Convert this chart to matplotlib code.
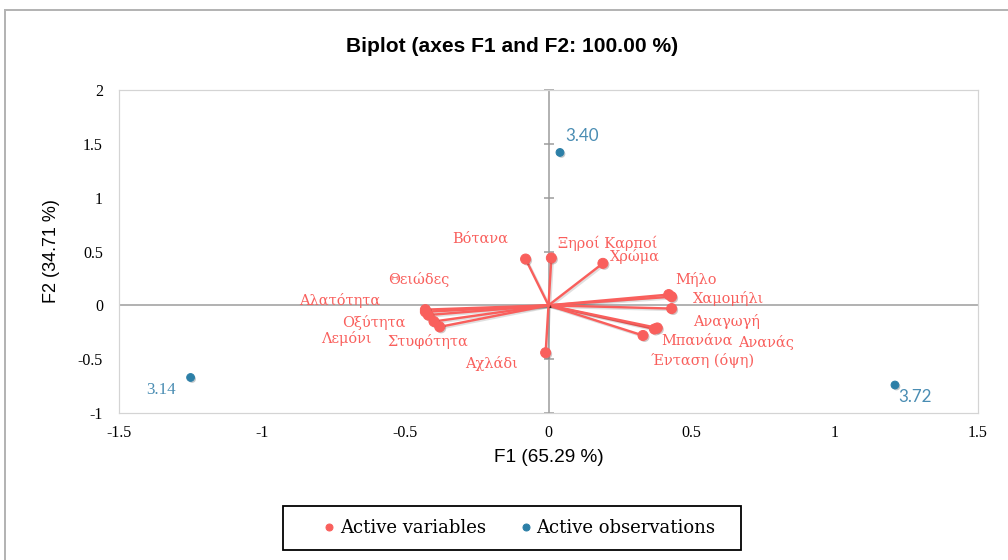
import matplotlib.pyplot as plt
import matplotlib.patheffects as pe
from matplotlib.lines import Line2D
from matplotlib.patches import Rectangle

# Variable loadings (F1, F2)
var_names = ['Βότανα', 'Ξηροί Καρποί', 'Χρώμα', 'Μήλο', 'Χαμομήλι', 'Αναγωγή',
             'Ανανάς', 'Μπανάνα', 'Ένταση (όψη)', 'Θειώδες', 'Αλατότητα',
             'Οξύτητα', 'Λεμόνι', 'Στυφότητα', 'Αχλάδι']
var_f1 = [-0.08, 0.01, 0.19, 0.42, 0.43, 0.43, 0.37, 0.38, 0.33,
          -0.43, -0.43, -0.42, -0.40, -0.38, -0.01]
var_f2 = [0.43, 0.44, 0.39, 0.10, 0.08, -0.03, -0.22, -0.21, -0.28,
          -0.04, -0.06, -0.09, -0.15, -0.20, -0.44]

# Observation scores
obs_names = ['3.40', '3.14', '3.72']
obs_f1 = [0.04, -1.25, 1.21]
obs_f2 = [1.42, -0.67, -0.74]

# label offsets in points (dx, dy) from each point, label centred there
var_offsets = [(-45, 20), (56, 15), (32, 7), (27, 15), (57, -2), (55, -13),
               (112, -13), (40, -13), (60, -25), (-7, 30), (-86, 11),
               (-54, -7), (-88, -17), (-12, -15), (-54, -11)]
obs_offsets = [(22, 16), (-30, -13), (20, -12)]

red = '#f95f5c'
blue = '#2c7fa7'
blue_txt = '#4a8db3'
grey = '#9a9a9a'

fig = plt.figure(figsize=(14, 560 / 72), dpi=72)
ax = fig.add_axes([119 / 1008, 1 - 413 / 560, (978 - 119) / 1008, (413 - 90) / 560])

# outer frame
fig.patches.append(Rectangle((5 / 1008, -0.05), 1.1, 1 - 10 / 560 + 0.05,
                             transform=fig.transFigure, fill=False,
                             edgecolor='#b4b4b4', linewidth=2))

ax.set_xlim(-1.5, 1.5)
ax.set_ylim(-1, 2)
for s in ax.spines.values():
    s.set_color('#d4d4d4')
    s.set_linewidth(1.2)
ax.tick_params(length=0)
ax.tick_params(axis='x', pad=12)
ax.tick_params(axis='y', pad=16)
ax.set_xticks([-1.5, -1, -0.5, 0, 0.5, 1, 1.5])
ax.set_xticklabels(['-1.5', '-1', '-0.5', '0', '0.5', '1', '1.5'],
                   family='Liberation Serif', fontsize=16)
ax.set_yticks([-1, -0.5, 0, 0.5, 1, 1.5, 2])
ax.set_yticklabels(['-1', '-0.5', '0', '0.5', '1', '1.5', '2'],
                   family='Liberation Serif', fontsize=16)

# zero axes with small ticks
ax.axhline(0, color=grey, lw=1.5, zorder=1)
ax.axvline(0, color=grey, lw=1.5, zorder=1)
ax.plot([0] * 6, [-1, -0.5, 0.5, 1, 1.5, 2], linestyle='none', marker='_',
        markersize=10, color=grey, mew=1.5, clip_on=False, zorder=1)

shadow = [pe.SimpleLineShadow(offset=(1.5, -1.5), alpha=0.12), pe.Normal()]
for x, y in zip(var_f1, var_f2):
    ax.plot([0, x], [0, y], color=red, lw=2.4, zorder=2, path_effects=shadow)
ax.scatter(var_f1, var_f2, s=100, color=red, zorder=3,
           path_effects=[pe.SimplePatchShadow(offset=(1.5, -1.5), alpha=0.25), pe.Normal()])
for name, x, y, off in zip(var_names, var_f1, var_f2, var_offsets):
    ax.annotate(name, (x, y), xytext=off, textcoords='offset points',
                ha='center', va='center', color=red, fontsize=14.5,
                family='DejaVu Serif')

ax.scatter(obs_f1, obs_f2, s=60, color=blue, zorder=3,
           path_effects=[pe.SimplePatchShadow(offset=(1.5, -1.5), alpha=0.25), pe.Normal()])
for name, x, y, off in zip(obs_names, obs_f1, obs_f2, obs_offsets):
    ax.annotate(name, (x, y), xytext=off, textcoords='offset points',
                ha='center', va='center', color=blue_txt, fontsize=17,
                family='Liberation Serif' if name == '3.14' else 'Lato')

fig.text(512 / 1008, 1 - 46 / 560, 'Biplot (axes F1 and F2: 100.00 %)',
         ha='center', va='center', fontsize=21, fontweight='bold',
         family='Liberation Sans')
ax.set_xlabel('F1 (65.29 %)', fontsize=19, family='Liberation Sans', labelpad=8)
ax.set_ylabel('F2 (34.71 %)', fontsize=18, family='Liberation Sans', labelpad=18)

# legend entries, with a plain black box drawn around them
handles = [Line2D([], [], linestyle='none', marker='o', markersize=7, color=red),
           Line2D([], [], linestyle='none', marker='o', markersize=7, color=blue)]
fig.legend(handles, ['Active variables', 'Active observations'],
           loc='center', bbox_to_anchor=(518 / 1008, 1 - 528 / 560), ncol=2,
           frameon=False, handletextpad=0.1, columnspacing=1.7,
           handlelength=1.0, borderaxespad=0,
           prop={'family': 'DejaVu Serif', 'size': 18})
fig.patches.append(Rectangle((283 / 1008, 1 - 550 / 560), (741 - 283) / 1008, 44 / 560,
                             transform=fig.transFigure, fill=False,
                             edgecolor='black', linewidth=1.8))

fig.savefig('out.png', dpi=72)
